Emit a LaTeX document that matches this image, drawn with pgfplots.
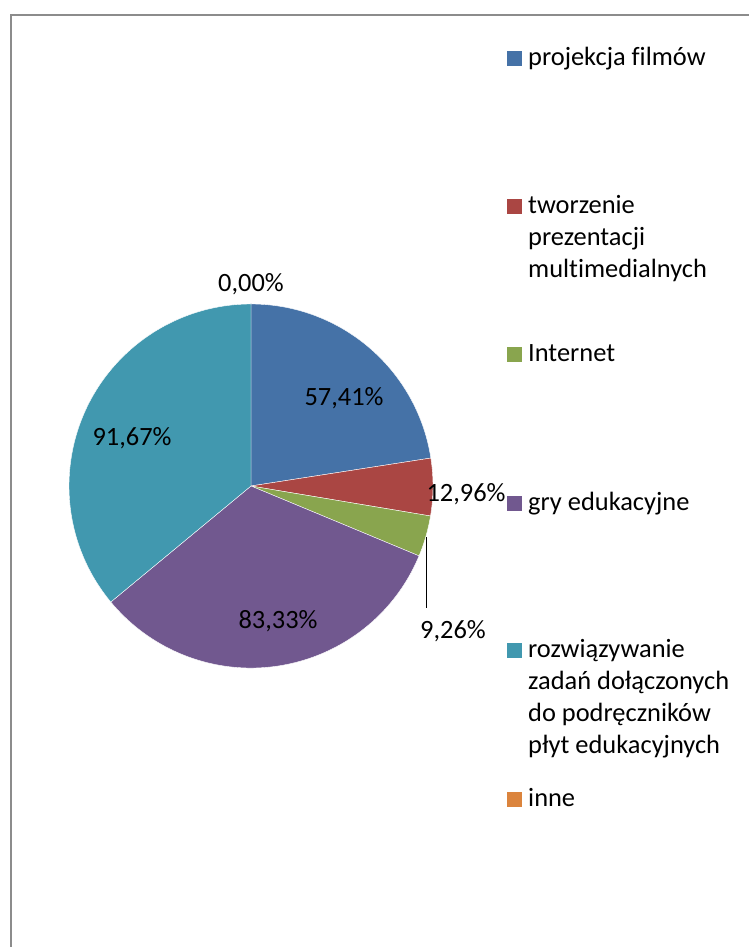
\documentclass[border=0pt]{standalone}
\usepackage{pgfplots}
\usepackage{pgfplotstable}
\usepackage{fontspec}
\setmainfont{Carlito}[Ligatures=NoCommon]
\pgfplotsset{compat=1.18}
\definecolor{sA}{HTML}{4572A7}
\definecolor{sB}{HTML}{AA4643}
\definecolor{sC}{HTML}{89A54E}
\definecolor{sD}{HTML}{71588F}
\definecolor{sE}{HTML}{4198AF}
\definecolor{sF}{HTML}{DB843D}
\definecolor{frame}{HTML}{8C8C8C}

\pgfplotstableread[col sep=comma]{
label,value
projekcja filmów,57.41
tworzenie prezentacji multimedialnych,12.96
Internet,9.26
gry edukacyjne,83.33
rozwiązywanie zadań,91.67
inne,0.00
}\piedata

\newcommand{\lines}[1]{\begin{tabular}[t]{@{}l@{}}#1\end{tabular}}

\begin{document}
\begin{tikzpicture}
% values -> slice angles (clockwise from 12 o'clock)
\pgfplotstablegetelem{0}{value}\of\piedata \let\vA\pgfplotsretval
\pgfplotstablegetelem{1}{value}\of\piedata \let\vB\pgfplotsretval
\pgfplotstablegetelem{2}{value}\of\piedata \let\vC\pgfplotsretval
\pgfplotstablegetelem{3}{value}\of\piedata \let\vD\pgfplotsretval
\pgfplotstablegetelem{4}{value}\of\piedata \let\vE\pgfplotsretval
\pgfplotstablegetelem{5}{value}\of\piedata \let\vF\pgfplotsretval
\pgfmathsetmacro\tot{\vA+\vB+\vC+\vD+\vE+\vF}
\pgfmathsetmacro\aA{90}
\pgfmathsetmacro\aB{\aA-360*(\vA/\tot)}
\pgfmathsetmacro\aC{\aB-360*(\vB/\tot)}
\pgfmathsetmacro\aD{\aC-360*(\vC/\tot)}
\pgfmathsetmacro\aE{\aD-360*(\vD/\tot)}
\pgfmathsetmacro\aF{\aE-360*(\vE/\tot)}
\begin{axis}[
  scale only axis,
  width=749pt, height=947pt,
  xmin=0, xmax=749, ymin=0, ymax=947,
  hide axis,
  clip=false,
  font=\fontsize{26.4}{31.7}\selectfont,
]
% frame
\draw[frame, line width=2pt] (axis cs:10.5,0) -- (axis cs:10.5,932) -- (axis cs:749,932);
% slices
\fill[sA, draw=white, line width=0.4pt] (axis cs:251,461) -- ++(\aA:182pt) arc[start angle=\aA, end angle=\aB, radius=182pt] -- cycle;
\fill[sB, draw=white, line width=0.4pt] (axis cs:251,461) -- ++(\aB:182pt) arc[start angle=\aB, end angle=\aC, radius=182pt] -- cycle;
\fill[sC, draw=white, line width=0.4pt] (axis cs:251,461) -- ++(\aC:182pt) arc[start angle=\aC, end angle=\aD, radius=182pt] -- cycle;
\fill[sD, draw=white, line width=0.4pt] (axis cs:251,461) -- ++(\aD:182pt) arc[start angle=\aD, end angle=\aE, radius=182pt] -- cycle;
\fill[sE, draw=white, line width=0.4pt] (axis cs:251,461) -- ++(\aE:182pt) arc[start angle=\aE, end angle=\aF, radius=182pt] -- cycle;
% data labels
\node at (axis cs:344,549) {57,41\%};
\node at (axis cs:466,453) {12,96\%};
\node at (axis cs:453,316) {9,26\%};
\node at (axis cs:278,326) {83,33\%};
\node at (axis cs:132,509) {91,67\%};
\node at (axis cs:251,663) {0,00\%};
\draw[black, line width=1.3pt] (axis cs:426.7,410) -- (axis cs:426.7,339);
% legend
\fill[sA] (axis cs:507,896) rectangle ++(15pt,-15pt);
\node[anchor=base west, inner sep=0pt] at (axis cs:528,881) {projekcja filmów};
\fill[sB] (axis cs:507,748) rectangle ++(15pt,-15pt);
\node[anchor=base west, inner sep=0pt] at (axis cs:528,733) {\lines{tworzenie\\prezentacji\\multimedialnych}};
\fill[sC] (axis cs:507,600) rectangle ++(15pt,-15pt);
\node[anchor=base west, inner sep=0pt] at (axis cs:528,585) {Internet};
\fill[sD] (axis cs:507,451) rectangle ++(15pt,-15pt);
\node[anchor=base west, inner sep=0pt] at (axis cs:528,436) {gry edukacyjne};
\fill[sE] (axis cs:507,304) rectangle ++(15pt,-15pt);
\node[anchor=base west, inner sep=0pt] at (axis cs:528,289) {\lines{rozwiązywanie\\zadań dołączonych\\do podręczników\\płyt edukacyjnych}};
\fill[sF] (axis cs:507,155) rectangle ++(15pt,-15pt);
\node[anchor=base west, inner sep=0pt] at (axis cs:528,140) {inne};
\end{axis}
\pgfresetboundingbox
\path (current axis.south west) rectangle (current axis.north east);
\end{tikzpicture}
\end{document}
